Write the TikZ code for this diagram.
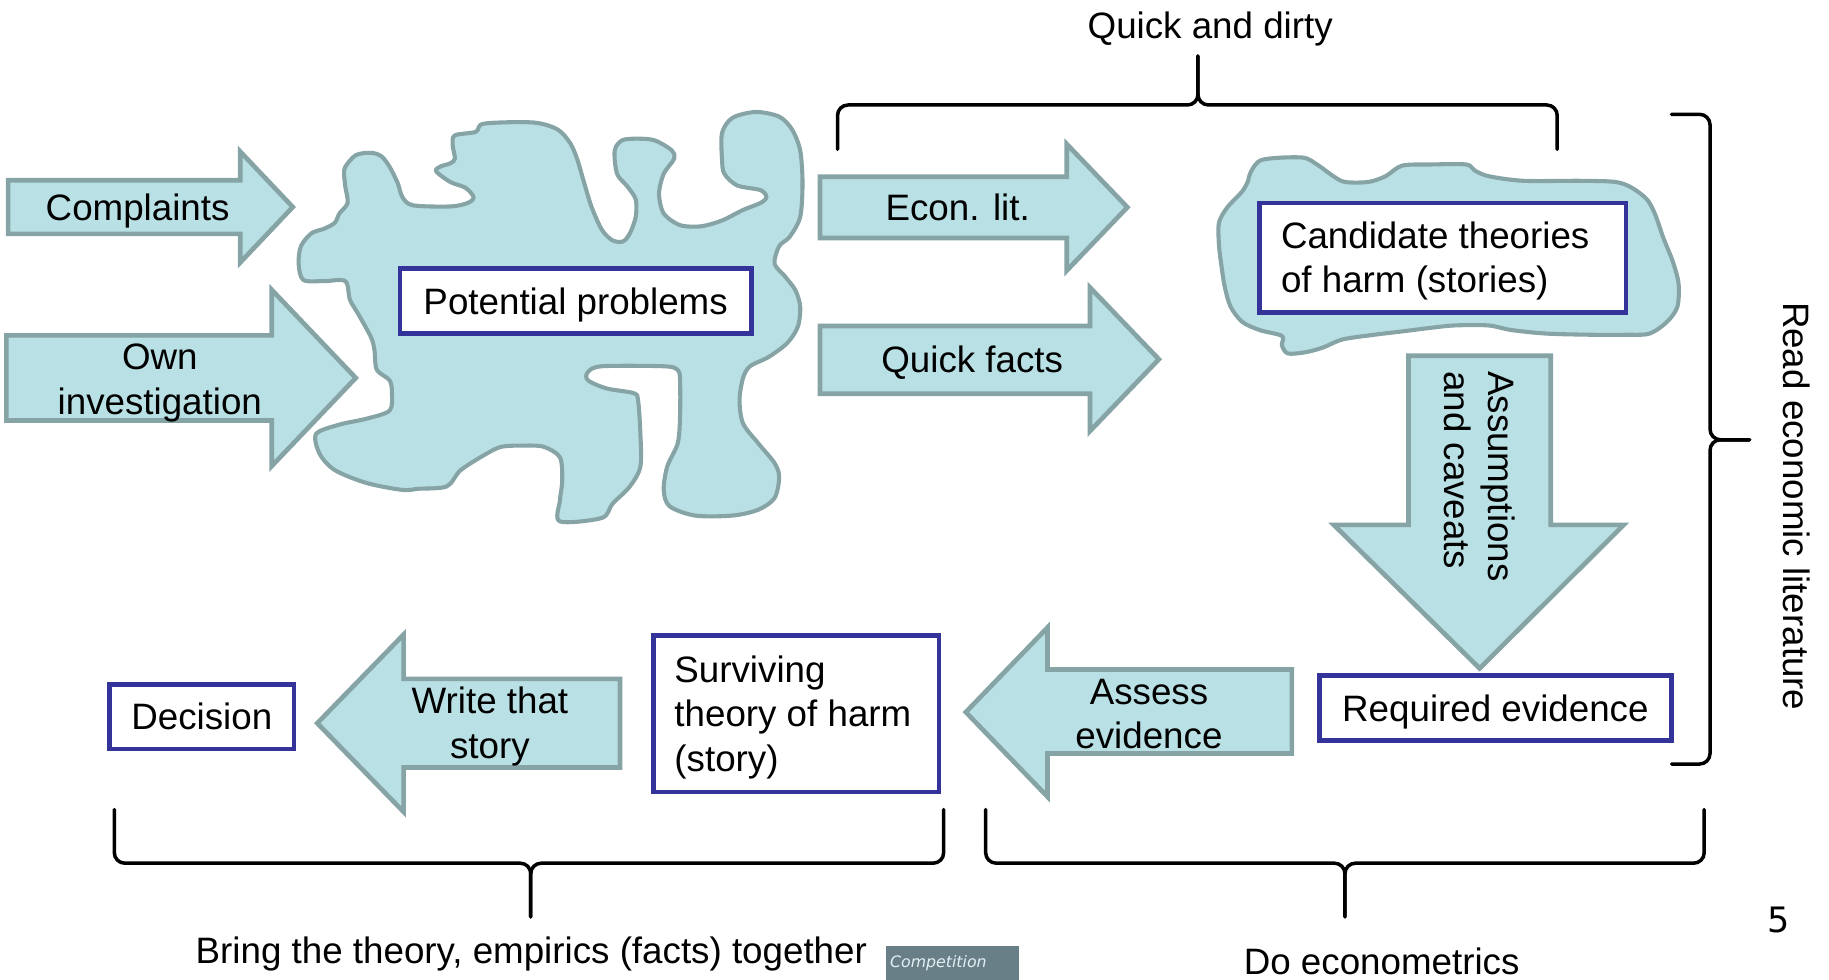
\documentclass[tikz,border=0pt]{standalone}
\usepackage{fontspec}
\setmainfont{Liberation Sans}
\newfontfamily\dejavu{DejaVu Sans}

\definecolor{shapefill}{RGB}{185,224,228}
\definecolor{shapeline}{RGB}{134,164,166}
\definecolor{boxblue}{RGB}{51,51,153}
\definecolor{tagfill}{RGB}{104,127,135}
\definecolor{tagtext}{RGB}{226,240,244}

\begin{document}
\begin{tikzpicture}[x=1pt, y=-1pt,
  blockarrow/.style={fill=shapefill, draw=shapeline, line width=4pt, line join=miter},
  cloud/.style={fill=shapefill, draw=shapeline, line width=3.5pt, line join=round},
  lbl/.style={font=\fontsize{31.5}{38}\selectfont, inner sep=0pt},
  framebox/.style={draw=boxblue, fill=white, line width=4pt, inner sep=0pt,
                   font=\fontsize{31.5}{38}\selectfont, text height=22.5pt, text depth=0pt},
  brace/.style={draw=black, line width=3pt, rounded corners=9pt, line cap=round},
]
\clip (0,0) rectangle (1568,840);

% ---- irregular regions ----
\draw[cloud] plot[smooth cycle, tension=0.5] coordinates {
 (296,143) (305,133) (318,131) (327,134) (334,143) (341,157) (345,169) (354,176)
 (386,177) (401,174) (406,169) (399,161) (386,156) (374,147) (377,143) (386,140)
 (390,136) (388,124) (390,116) (408,113) (415,106) (457,105) (478,111) (489,123)
 (495,137) (500,154) (507,177) (516,197) (525,206) (534,207) (540,200) (545,186)
 (545,171) (538,160) (529,149) (527,129) (534,120) (552,119) (563,121) (576,129)
 (578,136) (569,149) (565,166) (569,183) (583,193) (601,194) (619,189) (637,180)
 (652,174) (657,169) (652,163) (632,159) (621,149) (619,137) (619,114) (628,101)
 (648,96) (668,100) (679,111) (686,129) (688,157) (686,186) (677,203) (668,211)
 (664,226) (673,237) (682,249) (686,263) (684,280) (675,294) (659,306) (643,314)
 (637,324) (634,343) (637,363) (650,380) (664,397) (668,409) (664,427) (650,437)
 (628,442) (596,442) (574,434) (569,420) (572,400) (581,380) (583,357) (583,326)
 (581,317) (569,314) (516,314) (504,319) (504,326) (520,333) (543,337) (547,343)
 (549,372) (549,400) (540,417) (525,432) (516,444) (480,447) (480,429) (482,412)
 (480,392) (466,383) (448,382) (430,383) (417,389) (395,403) (383,417) (359,419)
 (345,420) (314,414) (287,403) (274,389) (271,372) (291,364) (314,359) (334,352)
 (336,337) (334,326) (323,317) (321,300) (318,289) (307,269) (300,257) (296,241)
 (278,241) (260,240) (256,226) (258,211) (267,200) (278,196) (287,191) (291,183)
 (298,174) (296,160) (295,149)};

\draw[cloud] plot[smooth cycle, tension=0.5] coordinates {
 (1072,148) (1082,137) (1116,135) (1129,141) (1143,151) (1153,156) (1173,156)
 (1188,151) (1202,142) (1227,141) (1257,141) (1264,146) (1276,151) (1306,155)
 (1355,155) (1385,156) (1399,161) (1412,171) (1419,184) (1426,204) (1434,224)
 (1439,243) (1438,263) (1429,276) (1414,286) (1394,287) (1365,287) (1326,286)
 (1296,283) (1276,279) (1247,279) (1227,281) (1203,284) (1178,287) (1151,291)
 (1134,298) (1119,302) (1104,303) (1099,296) (1099,288) (1080,283) (1065,276)
 (1055,263) (1050,246) (1047,227) (1045,210) (1045,191) (1052,178) (1065,164)
 (1070,155)};

% ---- block arrows ----
\draw[blockarrow] (7,154.5) -- (206,154.5) -- (206,130) -- (251,177.5)
  -- (206,225) -- (206,200.5) -- (7,200.5) -- cycle;
\draw[blockarrow] (5.5,287.5) -- (233,287.5) -- (233,248.5) -- (305,324)
  -- (233,399.5) -- (233,360.5) -- (5.5,360.5) -- cycle;
\draw[blockarrow] (703,151.5) -- (914.5,151.5) -- (914.5,123.5) -- (966.5,177.7)
  -- (914.5,232) -- (914.5,204) -- (703,204) -- cycle;
\draw[blockarrow] (703,279.5) -- (934.5,279.5) -- (934.5,246.5) -- (993.5,308)
  -- (934.5,369.5) -- (934.5,337.5) -- (703,337.5) -- cycle;
\draw[blockarrow] (1207.5,305) -- (1329.5,305) -- (1329.5,450) -- (1392,450)
  -- (1268.5,573) -- (1143.5,450) -- (1207.5,450) -- cycle;
\draw[blockarrow] (1107.5,574) -- (898,574) -- (898,538) -- (828,610.5)
  -- (898,683) -- (898,646) -- (1107.5,646) -- cycle;
\draw[blockarrow] (531.5,582) -- (346,582) -- (346,544) -- (272,620)
  -- (346,696) -- (346,658) -- (531.5,658) -- cycle;

% ---- labels on the arrows ----
\node[lbl, anchor=base] (complaints) at (118,189) {Complaints};
\node[lbl, anchor=base] (own) at (137,317)
  {\begin{tabular}[t]{@{}c@{}}Own\\investigation\end{tabular}};
\node[lbl, anchor=base] (econ) at (821,189) {Econ. lit.};
\node[lbl, anchor=base] (facts) at (833.5,319) {Quick facts};
\node[lbl, anchor=base west, rotate=-90] (assume) at (1276.5,318)
  {\begin{tabular}[t]{@{}l@{}}Assumptions\\and caveats\end{tabular}};
\node[lbl, anchor=base] (assess) at (985,604)
  {\begin{tabular}[t]{@{}c@{}}Assess\\evidence\end{tabular}};
\node[lbl, anchor=base] (write) at (420,612)
  {\begin{tabular}[t]{@{}c@{}}Write that\\story\end{tabular}};

% ---- framed boxes ----
\node[framebox, minimum width=301pt, minimum height=56pt] (pp) at (493.5,258) {Potential problems};
\node[framebox, minimum width=314pt, minimum height=94pt] (cand) at (1237,221) {};
\node[lbl, anchor=base west] (candtxt) at (1098,213)
  {\begin{tabular}[t]{@{}l@{}}Candidate theories\\of harm (stories)\end{tabular}};
\node[framebox, minimum width=302pt, minimum height=56pt] (req) at (1282,607) {Required evidence};
\node[framebox, minimum width=245pt, minimum height=134pt] (surv) at (682.5,612) {};
\node[lbl, anchor=base west] (survtxt) at (578,585)
  {\begin{tabular}[t]{@{}l@{}}Surviving\\theory of harm\\(story)\end{tabular}};
\node[framebox, minimum width=158pt, minimum height=55pt] (dec) at (173,614.5) {Decision};

% ---- braces ----
\draw[brace] (718,128) -- (718,90) -- (1027,90) -- (1027,48);
\draw[brace] (1335,128) -- (1335,90) -- (1027,90) -- (1027,48);
\draw[brace] (1433,98) -- (1466,98) -- (1466,377) -- (1500,377);
\draw[brace] (1433,655) -- (1466,655) -- (1466,377) -- (1500,377);
\draw[brace] (98,694) -- (98,740) -- (455,740) -- (455,786);
\draw[brace] (809,694) -- (809,740) -- (455,740) -- (455,786);
\draw[brace] (845,694) -- (845,740) -- (1153,740) -- (1153,786);
\draw[brace] (1461,694) -- (1461,740) -- (1153,740) -- (1153,786);

% ---- brace captions ----
\node[lbl, anchor=base] (quick) at (1037.5,33) {Quick and dirty};
\node[lbl, anchor=base, rotate=-90] (readlit) at (1529,434) {Read economic literature};
\node[lbl, anchor=base] (bring) at (455.5,826) {Bring the theory, empirics (facts) together};
\node[lbl, anchor=base] (econo) at (1184.5,835) {Do econometrics};

% ---- footer ----
\node[anchor=base, inner sep=0pt, font=\dejavu\fontsize{30}{36}\selectfont] (pagenum) at (1525,799) {5};
\node[anchor=north west, fill=tagfill, minimum height=29pt, inner xsep=4pt, inner ysep=0pt,
      text width=106pt, align=left, text=tagtext,
      font=\dejavu\itshape\fontsize{13.5}{16}\selectfont] (tag) at (759,811) {Competition};
\end{tikzpicture}
\end{document}
